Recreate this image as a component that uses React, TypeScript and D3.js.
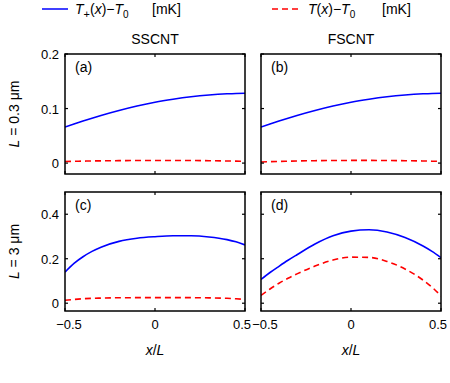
import React from "react";
import * as d3 from "d3";

const xs = [-0.5, -0.45, -0.4, -0.35, -0.3, -0.2, -0.1, 0, 0.1, 0.2, 0.3, 0.4, 0.45, 0.5];

// panel (a) SSCNT, L = 0.3 um
const aPlus = [0.066, 0.0715, 0.077, 0.0822, 0.0872, 0.0963, 0.1045, 0.1115, 0.117, 0.1215, 0.1248, 0.127, 0.1277, 0.128];
const aT = [0.003, 0.0033, 0.0036, 0.0039, 0.0041, 0.0045, 0.0047, 0.0048, 0.0048, 0.0047, 0.0044, 0.0039, 0.0036, 0.0033];
// panel (b) FSCNT, L = 0.3 um
const bPlus = [0.066, 0.0715, 0.077, 0.0822, 0.0872, 0.0963, 0.1045, 0.1115, 0.117, 0.1215, 0.1248, 0.127, 0.1277, 0.128];
const bT = [0.002, 0.0026, 0.0031, 0.0035, 0.0039, 0.0044, 0.0047, 0.0049, 0.0049, 0.0047, 0.0044, 0.0039, 0.0035, 0.0031];
// panel (c) SSCNT, L = 3 um
const cPlus = [0.14, 0.179, 0.209, 0.233, 0.252, 0.278, 0.292, 0.299, 0.303, 0.303, 0.298, 0.286, 0.276, 0.262];
const cT = [0.013, 0.017, 0.02, 0.022, 0.023, 0.0245, 0.025, 0.0252, 0.0252, 0.025, 0.024, 0.022, 0.02, 0.017];
// panel (d) FSCNT, L = 3 um
const dPlus = [0.107, 0.138, 0.166, 0.193, 0.218, 0.266, 0.303, 0.324, 0.33, 0.32, 0.295, 0.257, 0.233, 0.205];
const dT = [0.035, 0.064, 0.09, 0.112, 0.132, 0.167, 0.194, 0.207, 0.206, 0.188, 0.154, 0.104, 0.072, 0.033];

const xTicks = [-0.5, 0, 0.5];
const xTickLabels = ["\u22120.5", "0", "0.5"];
const yTicksTop = [0, 0.1, 0.2];
const yTickLabelsTop = ["0", "0.1", "0.2"];
const yTicksBottom = [0, 0.2, 0.4];
const yTickLabelsBottom = ["0", "0.2", "0.4"];
const colTitles = ["SSCNT", "FSCNT"];
const panelLetters = ["(a)", "(b)", "(c)", "(d)"];

const FONT = "'Liberation Sans', Arial, Helvetica, sans-serif";
const BLUE = "#0000ff";
const RED = "#ff0000";

const colX = [65, 261];
const panelW = 180;
const rows = [
  { top: 54, bottom: 174, domain: [-0.02, 0.2], ticks: yTicksTop, labels: yTickLabelsTop },
  { top: 192, bottom: 311, domain: [-0.035, 0.5], ticks: yTicksBottom, labels: yTickLabelsBottom },
];

const panels = [
  { row: 0, col: 0, plus: aPlus, t: aT },
  { row: 0, col: 1, plus: bPlus, t: bT },
  { row: 1, col: 0, plus: cPlus, t: cT },
  { row: 1, col: 1, plus: dPlus, t: dT },
];

function Panel({ row, col, plus, t, letter }: any) {
  const r = rows[row];
  const x0 = colX[col];
  const x = d3.scaleLinear().domain([-0.5, 0.5]).range([x0, x0 + panelW]);
  const y = d3.scaleLinear().domain(r.domain).range([r.bottom, r.top]);
  const line = d3
    .line<number>()
    .x((_, i) => x(xs[i]))
    .y((d) => y(d))
    .curve(d3.curveMonotoneX);
  const tl = 3;
  return (
    <g>
      <clipPath id={`clip${row}${col}`}>
        <rect x={x0} y={r.top} width={panelW} height={r.bottom - r.top} />
      </clipPath>
      <g clipPath={`url(#clip${row}${col})`}>
        <path d={line(plus) || ""} fill="none" stroke={BLUE} strokeWidth={1.6} />
        <path d={line(t) || ""} fill="none" stroke={RED} strokeWidth={1.6} strokeDasharray="6,4" />
      </g>
      <rect x={x0} y={r.top} width={panelW} height={r.bottom - r.top} fill="none" stroke="#000" strokeWidth={1.5} />
      {xTicks.map((v, i) => (
        <g key={"xt" + i}>
          <line x1={x(v)} x2={x(v)} y1={r.bottom} y2={r.bottom - tl} stroke="#000" strokeWidth={1.2} />
          <line x1={x(v)} x2={x(v)} y1={r.top} y2={r.top + tl} stroke="#000" strokeWidth={1.2} />
          {row === 1 && (
            <text x={x(v) + (i === 0 ? 4 : i === 2 ? -3 : 0)} y={r.bottom + 18} textAnchor="middle" fontSize={13} fontFamily={FONT}>
              {xTickLabels[i]}
            </text>
          )}
        </g>
      ))}
      {r.ticks.map((v: number, i: number) => (
        <g key={"yt" + i}>
          <line x1={x0} x2={x0 + tl} y1={y(v)} y2={y(v)} stroke="#000" strokeWidth={1.2} />
          <line x1={x0 + panelW} x2={x0 + panelW - tl} y1={y(v)} y2={y(v)} stroke="#000" strokeWidth={1.2} />
          {col === 0 && (
            <text x={x0 - 6} y={y(v) + 5} textAnchor="end" fontSize={13} fontFamily={FONT}>
              {r.labels[i]}
            </text>
          )}
        </g>
      ))}
      <text x={x0 + 10} y={r.top + 18} fontSize={14} fontFamily={FONT}>
        {letter}
      </text>
      {row === 1 && (
        <text x={x0 + panelW / 2} y={355} textAnchor="middle" fontSize={14} fontFamily={FONT}>
          <tspan fontStyle="italic">x</tspan>/<tspan fontStyle="italic">L</tspan>
        </text>
      )}
    </g>
  );
}

export default function App() {
  return (
    <svg width={450} height={383} style={{ position: "absolute", left: 0, top: 0, background: "#fff" }}>
      <rect x={0} y={0} width={450} height={383} fill="#fff" />
      {/* legend */}
      <line x1={42} x2={68} y1={9} y2={9} stroke={BLUE} strokeWidth={1.5} />
      <text x={75} y={14} fontSize={14} fontFamily={FONT}>
        <tspan fontStyle="italic">T</tspan>
        <tspan fontSize={11} dy={4}>+</tspan>
        <tspan dy={-4}>(</tspan>
        <tspan fontStyle="italic">x</tspan>
        <tspan>){"\u2212"}</tspan>
        <tspan fontStyle="italic">T</tspan>
        <tspan fontSize={10} dy={4}>0</tspan>
        <tspan dy={-4} x={152}>[mK]</tspan>
      </text>
      <line x1={272} x2={300} y1={9} y2={9} stroke={RED} strokeWidth={1.5} strokeDasharray="6,4" />
      <text x={308} y={14} fontSize={14} fontFamily={FONT}>
        <tspan fontStyle="italic">T</tspan>
        <tspan>(</tspan>
        <tspan fontStyle="italic">x</tspan>
        <tspan>){"\u2212"}</tspan>
        <tspan fontStyle="italic">T</tspan>
        <tspan fontSize={10} dy={4}>0</tspan>
        <tspan dy={-4} x={382}>[mK]</tspan>
      </text>
      {colTitles.map((tt, i) => (
        <text key={tt} x={colX[i] + panelW / 2} y={44} textAnchor="middle" fontSize={14} fontFamily={FONT}>
          {tt}
        </text>
      ))}
      <text transform={`translate(19,${(rows[0].top + rows[0].bottom) / 2}) rotate(-90)`} textAnchor="middle" fontSize={14} fontFamily={FONT}>
        <tspan fontStyle="italic">L</tspan> = 0.3 {"\u03bc"}m
      </text>
      <text transform={`translate(19,${(rows[1].top + rows[1].bottom) / 2}) rotate(-90)`} textAnchor="middle" fontSize={14} fontFamily={FONT}>
        <tspan fontStyle="italic">L</tspan> = 3 {"\u03bc"}m
      </text>
      {panels.map((p, i) => (
        <Panel key={i} {...p} letter={panelLetters[i]} />
      ))}
    </svg>
  );
}
